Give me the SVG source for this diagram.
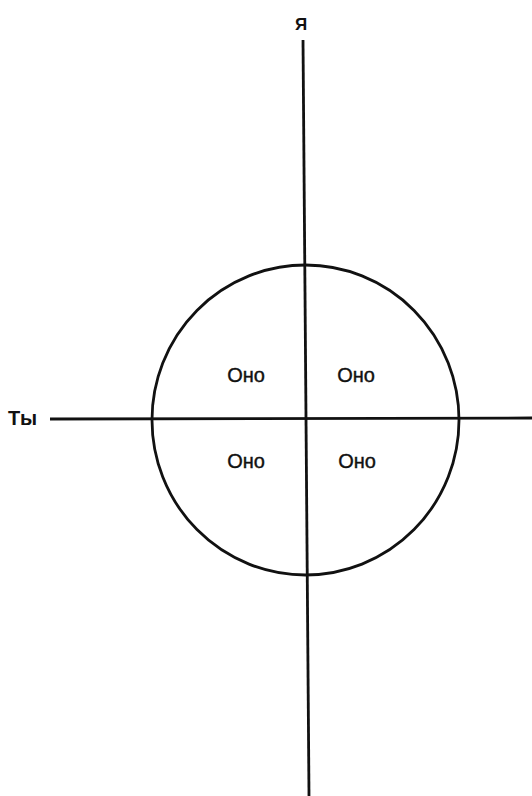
<svg xmlns="http://www.w3.org/2000/svg" width="532" height="796" viewBox="0 0 532 796">
<style>
.ln{stroke:#111;stroke-width:2.8;fill:none;stroke-linecap:butt}
.lbl{font-family:"Liberation Sans",Arial,sans-serif;fill:#111}
.ono{font-size:20px;text-anchor:middle;stroke:#111;stroke-width:0.4}
</style>
<rect width="532" height="796" fill="#fff"/>
<g id="connectors">
<line class="ln" x1="303" y1="40" x2="309" y2="796"/>
<line class="ln" x1="50" y1="419" x2="532" y2="418"/>
</g>
<g id="circle"><ellipse class="ln" cx="305.5" cy="420" rx="153.5" ry="155" stroke-width="3.2"/></g>
<g id="ya"><text class="lbl" x="301" y="30" font-size="17" font-weight="bold" text-anchor="middle">Я</text></g>
<g id="ty"><text class="lbl" x="8" y="425" font-size="20" font-weight="bold">Ты</text></g>
<g id="ono1"><text class="lbl ono" x="246" y="382">Оно</text></g>
<g id="ono2"><text class="lbl ono" x="356" y="382">Оно</text></g>
<g id="ono3"><text class="lbl ono" x="246" y="468">Оно</text></g>
<g id="ono4"><text class="lbl ono" x="357" y="468">Оно</text></g>
</svg>
